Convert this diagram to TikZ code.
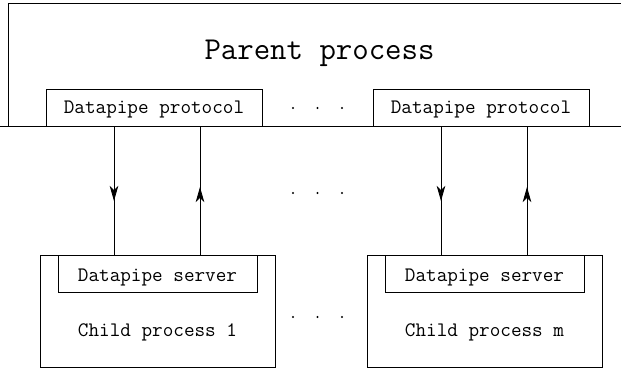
\documentclass[tikz,border=0pt]{standalone}
\usepackage{fontspec}
\usetikzlibrary{arrows.meta,decorations.markings}
\tikzset{
  line/.style={line width=0.8pt},
  frame/.style={draw, line, inner sep=0pt, outer sep=0pt, anchor=north west},
  smallfont/.style={font=\fontsize{20.6}{24}\selectfont\ttfamily},
  protobox/.style={frame, smallfont, minimum width=216pt, text height=24.5pt, text depth=12.5pt},
  serverbox/.style={frame, smallfont, minimum width=199pt, text height=26pt, text depth=11pt},
  childbox/.style={frame, minimum width=235pt, minimum height=112pt},
  label/.style={smallfont, anchor=base, inner sep=0pt},
  pipetip/.tip={Stealth[length=15pt,width=8.5pt,inset=4pt]},
  downpipe/.style={line, postaction={decorate, decoration={markings,
      mark=at position 75pt with {\arrow{pipetip}}}}},
  uppipe/.style={line, postaction={decorate, decoration={markings,
      mark=at position 68pt with {\arrow{pipetip}}}}},
  dot/.style={fill=black}
}
\begin{document}
\begin{tikzpicture}[x=1pt,y=-1pt]
  \useasboundingbox (0,0) rectangle (621,375);

  % parent process frame, open on the right
  \draw[line] (621,3) -- (8,3) -- (8,126);
  \draw[line] (0,126) -- (621,126);
  \node[anchor=base, inner sep=0pt, font=\fontsize{31.9}{36}\selectfont\ttfamily]
    (parent) at (319.5,59) {Parent process};

  % protocol boxes sitting on the parent's lower edge
  \node[protobox] (p1) at (46,89) {Datapipe protocol};
  \node[protobox] (pm) at (373,89) {Datapipe protocol};

  % child processes
  \node[childbox] (c1) at (40,255) {};
  \node[serverbox] (s1) at (58,255) {Datapipe server};
  \node[label] (t1) at (157.5,336) {Child process 1};

  \node[childbox] (cm) at (367,255) {};
  \node[serverbox] (sm) at (385,255) {Datapipe server};
  \node[label] (tm) at (484.5,336) {Child process m};

  % pipes between protocol and server
  \path (p1.south west) ++(68,0) coordinate (a1);
  \path (p1.south west) ++(154,0) coordinate (b1);
  \path (pm.south west) ++(68,0) coordinate (am);
  \path (pm.south west) ++(154,0) coordinate (bm);
  \draw[downpipe] (a1) -- (a1 |- s1.north);
  \draw[uppipe] (b1 |- s1.north) -- (b1);
  \draw[downpipe] (am) -- (am |- sm.north);
  \draw[uppipe] (bm |- sm.north) -- (bm);

  % ellipses between the two columns
  \foreach \y in {108,193,317} {
    \foreach \x in {293,317.5,342} {
      \fill[dot] (\x,\y) circle (1.1pt);
    }
  }
\end{tikzpicture}
\end{document}
